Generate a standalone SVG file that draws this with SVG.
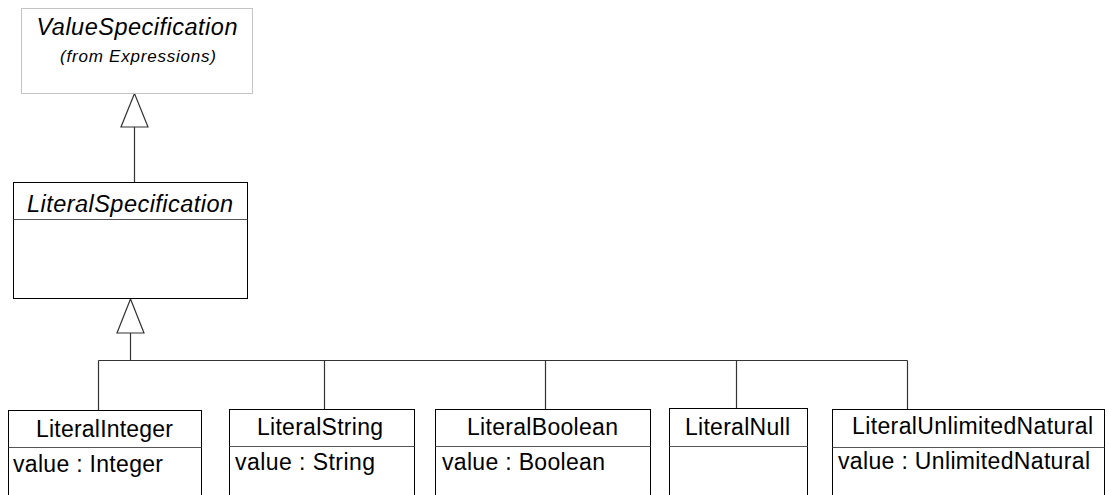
<svg xmlns="http://www.w3.org/2000/svg" width="1109" height="495" viewBox="0 0 1109 495">
<style>
.box{fill:#fff;stroke:#000;stroke-width:1}
.ext{fill:#fff;stroke:#c4c4c4;stroke-width:1}
.div{stroke:#555;stroke-width:1}
.t{font-family:"Liberation Sans",Arial,sans-serif;font-size:23px;fill:#000}
.it{font-style:italic}
.c{stroke:#333;stroke-width:1.2;fill:none}
.tri{fill:#fff;stroke:#333;stroke-width:1.2}
</style>
<rect width="1109" height="495" fill="#fff"/>
<g id="connectors">
<line class="c" x1="134.5" y1="127" x2="134.5" y2="182"/>
<polygon class="tri" points="134.5,93.5 121,127 148,127"/>
<line class="c" x1="130.5" y1="333" x2="130.5" y2="360.5"/>
<polygon class="tri" points="130.5,299 117,333 144,333"/>
<line class="c" x1="98.5" y1="360.5" x2="907.5" y2="360.5"/>
<line class="c" x1="98.5" y1="360.5" x2="98.5" y2="410.5"/>
<line class="c" x1="324.5" y1="360.5" x2="324.5" y2="409.5"/>
<line class="c" x1="545.5" y1="360.5" x2="545.5" y2="409.5"/>
<line class="c" x1="736.5" y1="360.5" x2="736.5" y2="408.5"/>
<line class="c" x1="907.5" y1="360.5" x2="907.5" y2="409.5"/>
</g>
<g id="ValueSpecification">
<rect class="ext" x="21.5" y="8.5" width="231" height="85"/>
<text class="t it" x="137" y="35" text-anchor="middle" style="font-size:23.5px" textLength="201" lengthAdjust="spacing">ValueSpecification</text>
<text class="t it" x="138" y="62" text-anchor="middle" style="font-size:17px" textLength="156" lengthAdjust="spacing">(from Expressions)</text>
</g>
<g id="LiteralSpecification">
<rect class="box" x="13.5" y="182.5" width="234" height="116"/>
<line class="div" x1="13.5" y1="219.5" x2="247.5" y2="219.5"/>
<text class="t it" x="130" y="212" text-anchor="middle" style="font-size:23.5px" textLength="206" lengthAdjust="spacing">LiteralSpecification</text>
</g>
<g id="LiteralInteger">
<rect class="box" x="8.5" y="410.5" width="193" height="100"/>
<line class="div" x1="8.5" y1="447.5" x2="201.5" y2="447.5"/>
<text class="t" x="104.5" y="437" text-anchor="middle" textLength="137" lengthAdjust="spacing">LiteralInteger</text>
<text class="t" x="13" y="472" textLength="150" lengthAdjust="spacing">value : Integer</text>
</g>
<g id="LiteralString">
<rect class="box" x="229.5" y="409.5" width="185" height="100"/>
<line class="div" x1="229.5" y1="446.5" x2="414.5" y2="446.5"/>
<text class="t" x="320" y="435" text-anchor="middle" textLength="126" lengthAdjust="spacing">LiteralString</text>
<text class="t" x="235" y="470" textLength="140" lengthAdjust="spacing">value : String</text>
</g>
<g id="LiteralBoolean">
<rect class="box" x="435.5" y="409.5" width="215" height="100"/>
<line class="div" x1="435.5" y1="446.5" x2="650.5" y2="446.5"/>
<text class="t" x="542.5" y="435" text-anchor="middle" textLength="151" lengthAdjust="spacing">LiteralBoolean</text>
<text class="t" x="442" y="470" textLength="163" lengthAdjust="spacing">value : Boolean</text>
</g>
<g id="LiteralNull">
<rect class="box" x="669.5" y="408.5" width="138" height="100"/>
<line class="div" x1="669.5" y1="446.5" x2="807.5" y2="446.5"/>
<text class="t" x="737.5" y="435" text-anchor="middle" textLength="105" lengthAdjust="spacing">LiteralNull</text>
</g>
<g id="LiteralUnlimitedNatural">
<rect class="box" x="832.5" y="409.5" width="272" height="100"/>
<line class="div" x1="832.5" y1="447.5" x2="1104.5" y2="447.5"/>
<text class="t" x="972.5" y="434" text-anchor="middle" textLength="241" lengthAdjust="spacing">LiteralUnlimitedNatural</text>
<text class="t" x="838" y="469" textLength="252" lengthAdjust="spacing">value : UnlimitedNatural</text>
</g>
</svg>
